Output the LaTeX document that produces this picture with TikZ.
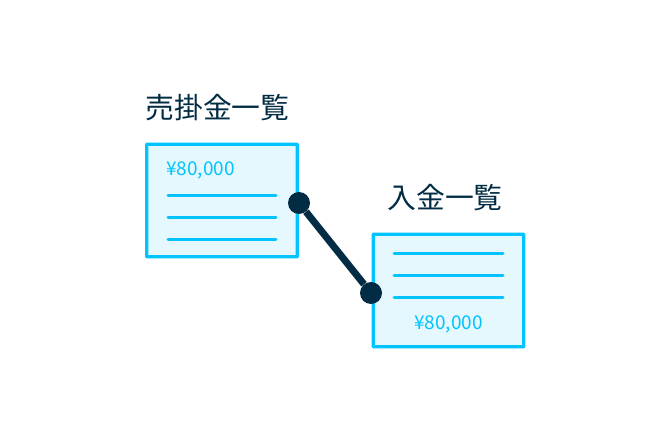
\documentclass[tikz,border=0pt]{standalone}
\usepackage{fontspec}
\setmainfont{Noto Sans CJK JP}
\definecolor{navy}{HTML}{022C43}
\definecolor{sky}{HTML}{00C3FF}
\definecolor{pale}{HTML}{E5F8FE}
\tikzset{
  sheet/.style={draw=sky,fill=pale,line width=3.2pt,rounded corners=0.5pt,minimum width=150.5pt,minimum height=112.5pt,inner sep=0pt},
  title/.style={text=navy,font=\fontsize{28.8}{28.8}\selectfont,inner sep=0pt},
  amount/.style={text=sky,font=\fontsize{19}{19}\selectfont,inner sep=0pt},
  rowline/.style={draw=sky,line width=3pt,line cap=round},
  pin/.style={circle,fill=navy,minimum size=22pt,inner sep=0pt}
}
\begin{document}
\begin{tikzpicture}[x=1pt,y=-1pt]
  \useasboundingbox (0,0) rectangle (670,433);
  \node (t1) at (217.5,107.5) [title] {売掛金一覧};
  \node (t2) at (445,197.5) [title] {入金一覧};
  \node (s1) at (222,200.5) [sheet] {};
  \node (s2) at (448.5,290.5) [sheet] {};
  \node (m1) at (200.5,170.5) [amount] {¥80,000};
  \node (m2) at (448.5,324.5) [amount] {¥80,000};
  \coordinate (a1) at (168,196); \coordinate (b1) at (276,196);
  \coordinate (a2) at (168,217.5); \coordinate (b2) at (276,217.5);
  \coordinate (a3) at (168,240); \coordinate (b3) at (276,240);
  \coordinate (c1) at (394,253); \coordinate (d1) at (503,253);
  \coordinate (c2) at (394,275); \coordinate (d2) at (503,275);
  \coordinate (c3) at (394,297); \coordinate (d3) at (503,297);
  \draw[rowline] (a1) -- (b1) (a2) -- (b2) (a3) -- (b3);
  \draw[rowline] (c1) -- (d1) (c2) -- (d2) (c3) -- (d3);
  \node (p1) at (299,203) [pin] {};
  \node (p2) at (371,293) [pin] {};
  \draw[navy,line width=7pt] (p1) -- (p2);
\end{tikzpicture}
\end{document}
